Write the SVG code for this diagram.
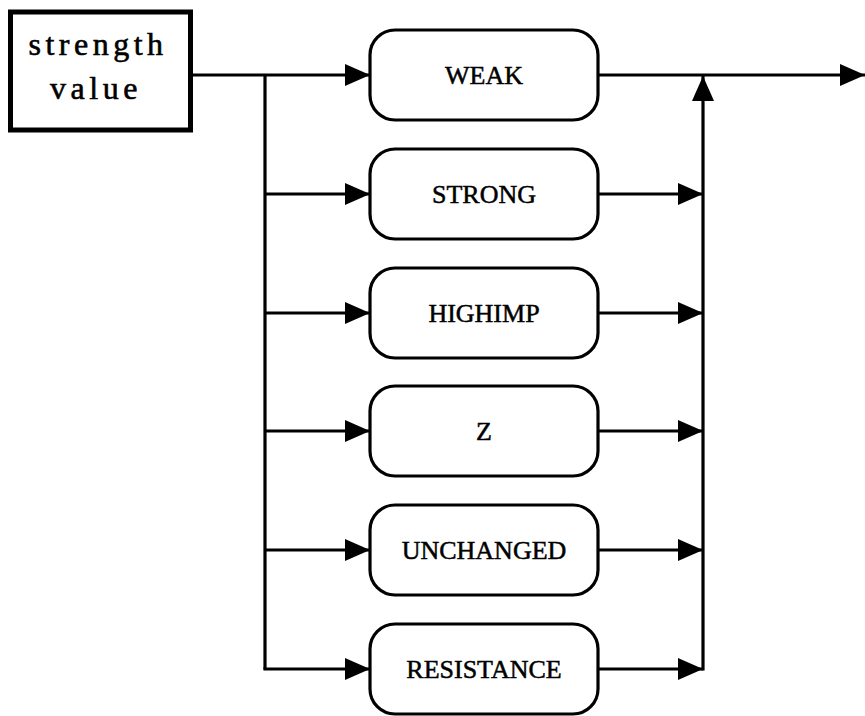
<svg xmlns="http://www.w3.org/2000/svg" width="865" height="716" viewBox="0 0 865 716">
<defs>
<marker id="ah" markerUnits="userSpaceOnUse" markerWidth="25" markerHeight="22" refX="25" refY="11" orient="auto">
<path d="M0,0 L25,11 L0,22 z" fill="#000"/>
</marker>
<style>
.ln{stroke:#000;stroke-width:3.2;fill:none}
.box{stroke:#000;stroke-width:3.2;fill:#fff}
.lbl{font-family:"Liberation Serif","Times New Roman",serif;font-size:26px;text-anchor:middle;fill:#000;stroke:#000;stroke-width:0.5}
.title{font-family:"Liberation Serif","Times New Roman",serif;font-size:32px;letter-spacing:4.5px;text-anchor:middle;fill:#000;stroke:#000;stroke-width:0.6}
</style>
</defs>
<rect width="865" height="716" fill="#fff"/>
<g id="connectors">
<path class="ln" d="M193,75 H370" marker-end="url(#ah)"/>
<path class="ln" d="M265,75 V669"/>
<path class="ln" d="M265,194 H370" marker-end="url(#ah)"/>
<path class="ln" d="M265,313 H370" marker-end="url(#ah)"/>
<path class="ln" d="M265,431 H370" marker-end="url(#ah)"/>
<path class="ln" d="M265,550 H370" marker-end="url(#ah)"/>
<path class="ln" d="M263.4,669 H370" marker-end="url(#ah)"/>
<path class="ln" d="M598,75 H865" marker-end="url(#ah)"/>
<path class="ln" d="M598,194 H703" marker-end="url(#ah)"/>
<path class="ln" d="M598,313 H703" marker-end="url(#ah)"/>
<path class="ln" d="M598,431 H703" marker-end="url(#ah)"/>
<path class="ln" d="M598,550 H703" marker-end="url(#ah)"/>
<path class="ln" d="M598,669 H703" marker-end="url(#ah)"/>
<path class="ln" d="M703,670.6 V76" marker-end="url(#ah)"/>
</g>
<g id="strength-value">
<rect x="10.5" y="12" width="180" height="118" fill="#fff" stroke="#000" stroke-width="5"/>
<text class="title" x="98" y="55">strength</text>
<text class="title" x="96" y="99">value</text>
</g>
<g id="weak">
<rect class="box" x="370" y="30" width="228" height="90" rx="25"/>
<text class="lbl" x="484" y="84">WEAK</text>
</g>
<g id="strong">
<rect class="box" x="370" y="149" width="228" height="90" rx="25"/>
<text class="lbl" x="484" y="203">STRONG</text>
</g>
<g id="highimp">
<rect class="box" x="370" y="268" width="228" height="90" rx="25"/>
<text class="lbl" x="484" y="322">HIGHIMP</text>
</g>
<g id="z">
<rect class="box" x="370" y="386" width="228" height="90" rx="25"/>
<text class="lbl" x="484" y="440">Z</text>
</g>
<g id="unchanged">
<rect class="box" x="370" y="505" width="228" height="90" rx="25"/>
<text class="lbl" x="484" y="559">UNCHANGED</text>
</g>
<g id="resistance">
<rect class="box" x="370" y="624" width="228" height="90" rx="25"/>
<text class="lbl" x="484" y="678">RESISTANCE</text>
</g>
</svg>
